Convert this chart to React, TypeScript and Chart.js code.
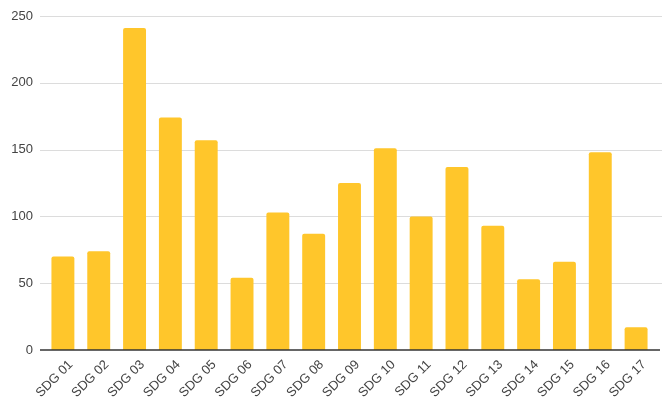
import React, { useEffect, useRef } from "react";
import { Chart, registerables } from "chart.js";

Chart.register(...registerables);

const categories = ["SDG 01","SDG 02","SDG 03","SDG 04","SDG 05","SDG 06","SDG 07","SDG 08","SDG 09","SDG 10","SDG 11","SDG 12","SDG 13","SDG 14","SDG 15","SDG 16","SDG 17"];
const values = [70, 74, 241, 174, 157, 54, 103, 87, 125, 151, 100, 137, 93, 53, 66, 148, 17];
const yTicks = [0, 50, 100, 150, 200, 250];

const gridPlugin = {
  id: "extendedGrid",
  beforeDatasetsDraw(chart: any) {
    const { ctx, scales } = chart;
    const y = scales.y;
    ctx.save();
    ctx.strokeStyle = "#dcdcdc";
    ctx.lineWidth = 1;
    yTicks.forEach((v) => {
      if (v === 0) return;
      const py = Math.round(y.getPixelForValue(v)) + 0.5;
      ctx.beginPath();
      ctx.moveTo(40, py);
      ctx.lineTo(662, py);
      ctx.stroke();
    });
    ctx.restore();
  },
  afterDatasetsDraw(chart: any) {
    const { ctx, scales } = chart;
    const py = scales.y.getPixelForValue(0);
    ctx.save();
    ctx.strokeStyle = "#333";
    ctx.lineWidth = 1.5;
    ctx.beginPath();
    ctx.moveTo(40, py);
    ctx.lineTo(660, py);
    ctx.stroke();
    ctx.restore();
  },
};

export default function App() {
  const ref = useRef<HTMLCanvasElement | null>(null);
  useEffect(() => {
    if (!ref.current) return;
    const chart = new Chart(ref.current, {
      type: "bar",
      data: {
        labels: categories,
        datasets: [{
          data: values,
          backgroundColor: "#FFC62B",
          borderRadius: 2,
          borderSkipped: "bottom",
          categoryPercentage: 0.64,
          barPercentage: 1,
        }],
      },
      plugins: [gridPlugin],
      options: {
        animation: false,
        responsive: true,
        maintainAspectRatio: false,
        layout: { padding: { top: 16, right: 14, left: 0, bottom: 0 } },
        plugins: { legend: { display: false }, tooltip: { enabled: false } },
        scales: {
          x: {
            grid: { display: false, drawTicks: false },
            border: { display: false },
            ticks: {
              minRotation: 45, maxRotation: 45, autoSkip: false,
              color: "#444", padding: 7, labelOffset: 8,
              font: { family: "'Liberation Sans', Arial, sans-serif", size: 13 },
            },
            afterFit: (s: any) => { s.height = 68; },
          },
          y: {
            min: 0, max: 250,
            afterBuildTicks: (s: any) => { s.ticks = yTicks.map((v) => ({ value: v })); },
            grid: { display: false, drawTicks: false },
            border: { display: false },
            ticks: {
              color: "#444", padding: 12,
              font: { family: "'Liberation Sans', Arial, sans-serif", size: 13 },
            },
            afterFit: (s: any) => { s.width = 45; s.paddingTop = 0; s.paddingBottom = 0; },
          },
        },
      },
    });
    return () => chart.destroy();
  }, []);
  return (
    <div style={{ position: "absolute", left: 0, top: 0, width: 668, height: 418, background: "#fff" }}>
      <canvas ref={ref} />
    </div>
  );
}
